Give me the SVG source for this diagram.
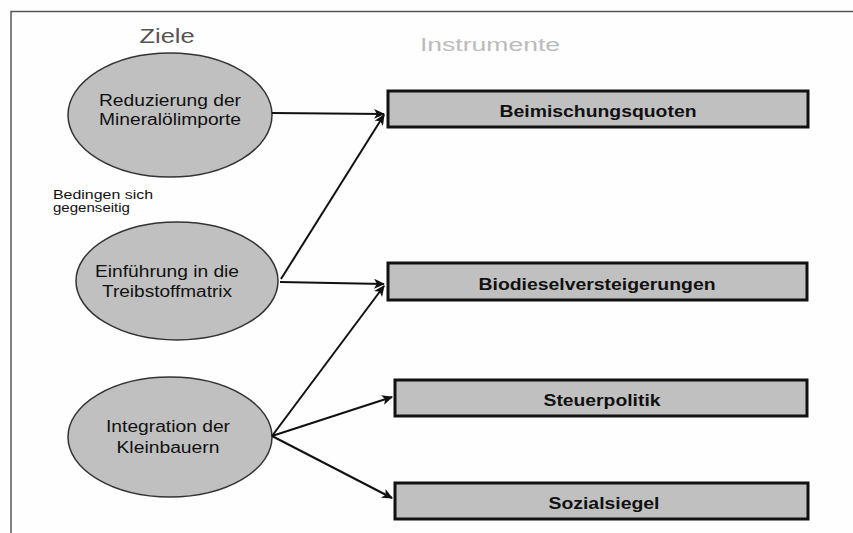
<svg xmlns="http://www.w3.org/2000/svg" width="853" height="533" viewBox="0 0 853 533">
<style>
  .bg{fill:#fefefe}
  .frame{fill:none;stroke:#555;stroke-width:1.5}
  .goal{fill:#c0c0c0;stroke:#333;stroke-width:1.5}
  .inst{fill:#c0c0c0;stroke:#111;stroke-width:3}
  .gtxt{font-family:"Liberation Sans",Arial,sans-serif;font-size:16px;fill:#111;text-anchor:middle}
  .itxt{font-family:"Liberation Sans",Arial,sans-serif;font-size:17px;font-weight:bold;fill:#111;text-anchor:middle}
  .conn line{stroke:#111;stroke-width:2;marker-end:url(#ah)}
</style>
<defs>
  <marker id="ah" viewBox="0 0 10 10" refX="9" refY="5" markerWidth="5.5" markerHeight="5.5" orient="auto" markerUnits="strokeWidth">
    <path d="M0,0.5 L10,5 L0,9.5 L2.5,5 Z" fill="#111"/>
  </marker>
</defs>
<rect class="bg" x="0" y="0" width="853" height="533"/>
<path class="frame" d="M11,533 V11.5 H853"/>
<text x="167" y="43" font-family="'Liberation Sans',Arial,sans-serif" font-size="20" fill="#555" text-anchor="middle" textLength="55" lengthAdjust="spacingAndGlyphs">Ziele</text>
<text x="420" y="51" font-family="'Liberation Sans',Arial,sans-serif" font-size="18" fill="#bbb" textLength="140" lengthAdjust="spacingAndGlyphs">Instrumente</text>
<g id="note">
  <text x="53" y="199" font-family="'Liberation Sans',Arial,sans-serif" font-size="12" fill="#111" textLength="100" lengthAdjust="spacingAndGlyphs">Bedingen sich</text>
  <text x="53" y="212" font-family="'Liberation Sans',Arial,sans-serif" font-size="12" fill="#111" textLength="77" lengthAdjust="spacingAndGlyphs">gegenseitig</text>
</g>
<g id="goal1">
  <ellipse class="goal" cx="170" cy="115" rx="102" ry="62"/>
  <text class="gtxt" x="170" y="106" textLength="142" lengthAdjust="spacingAndGlyphs">Reduzierung der</text>
  <text class="gtxt" x="170" y="125" textLength="142" lengthAdjust="spacingAndGlyphs">Mineralölimporte</text>
</g>
<g id="goal2">
  <ellipse class="goal" cx="177" cy="281" rx="101" ry="59"/>
  <text class="gtxt" x="167" y="277" textLength="144" lengthAdjust="spacingAndGlyphs">Einführung in die</text>
  <text class="gtxt" x="167" y="297" textLength="130" lengthAdjust="spacingAndGlyphs">Treibstoffmatrix</text>
</g>
<g id="goal3">
  <ellipse class="goal" cx="170" cy="437" rx="102" ry="60"/>
  <text class="gtxt" x="168" y="432" textLength="124" lengthAdjust="spacingAndGlyphs">Integration der</text>
  <text class="gtxt" x="168" y="453" textLength="103" lengthAdjust="spacingAndGlyphs">Kleinbauern</text>
</g>
<g id="inst1">
  <rect class="inst" x="388" y="91" width="420" height="36"/>
  <text class="itxt" x="598" y="117" textLength="197" lengthAdjust="spacingAndGlyphs">Beimischungsquoten</text>
</g>
<g id="inst2">
  <rect class="inst" x="388" y="263" width="419" height="37"/>
  <text class="itxt" x="597" y="290" textLength="237" lengthAdjust="spacingAndGlyphs">Biodieselversteigerungen</text>
</g>
<g id="inst3">
  <rect class="inst" x="395" y="380" width="412" height="36"/>
  <text class="itxt" x="602" y="406" textLength="117" lengthAdjust="spacingAndGlyphs">Steuerpolitik</text>
</g>
<g id="inst4">
  <rect class="inst" x="395" y="483" width="413" height="36"/>
  <text class="itxt" x="604" y="509" textLength="111" lengthAdjust="spacingAndGlyphs">Sozialsiegel</text>
</g>
<g class="conn" id="connectors">
  <line x1="272" y1="113" x2="384" y2="114"/>
  <line x1="281" y1="279" x2="384" y2="115"/>
  <line x1="280" y1="282" x2="384" y2="284"/>
  <line x1="272" y1="436" x2="384" y2="286"/>
  <line x1="272" y1="436" x2="392" y2="397"/>
  <line x1="272" y1="436" x2="392" y2="498"/>
</g>
</svg>
